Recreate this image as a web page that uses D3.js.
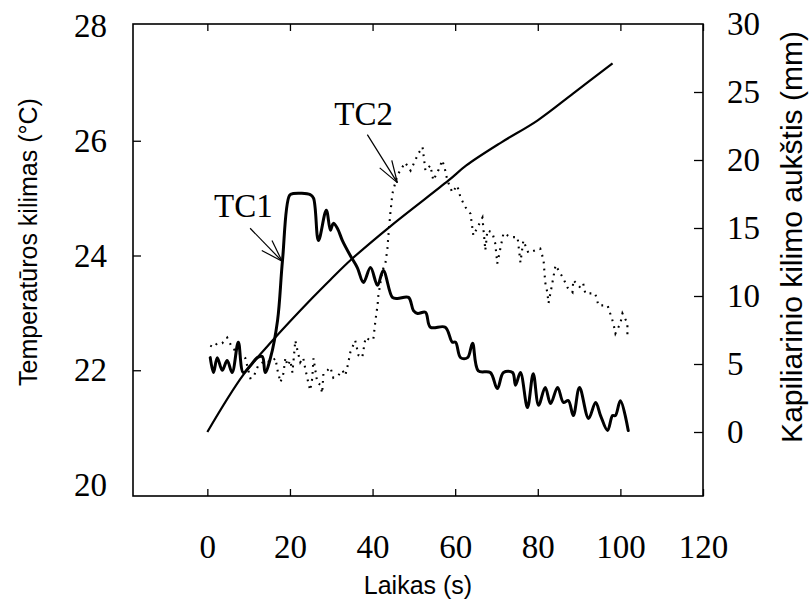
<!DOCTYPE html>
<html>
<head>
<meta charset="utf-8">
<script src="https://cdn.jsdelivr.net/npm/d3@7"></script>
<style>
  body { margin: 0; background: #fff; }
  svg { display: block; }
</style>
</head>
<body>
<script>
// Axis tick values
const timeTicks = [0, 20, 40, 60, 80, 100, 120];
const tempTicks = [20, 22, 24, 26, 28];
const heightTicks = [0, 5, 10, 15, 20, 25, 30];

// Capillary rise height (mm) over time (s)
const riseSeries = [
  [0, 0], [8.7, 4.2], [16, 6.8], [25.4, 9.85], [29.8, 11.2], [34.9, 12.7],
  [44.6, 15.2], [58.4, 18.5], [62.7, 19.6], [71.2, 21.3], [79.9, 22.9],
  [88.6, 24.9], [98.1, 27.1]
];

// Thermocouple TC1 temperature (°C) over time (s)
const tc1Series = [
  [0.7, 22.22], [1.5, 21.96], [2.4, 22.22], [3.6, 22.0], [4.8, 22.17], [6.0, 21.96],
  [7.5, 22.49], [8.7, 21.96], [10.4, 22.08], [12.1, 22.22], [13.3, 22.24], [14.0, 21.96],
  [15.3, 22.22], [17.0, 22.87], [18.2, 23.92], [19.9, 25.05], [20.8, 25.08], [24.9, 25.06],
  [25.7, 25.0], [26.9, 24.26], [28.8, 24.79], [29.8, 24.44], [30.5, 24.56], [31.5, 24.47],
  [32.7, 24.26], [34.6, 24.0], [36.3, 23.79], [37.8, 23.53], [39.5, 23.79], [41.2, 23.48],
  [42.6, 23.74], [44.8, 23.27], [46.0, 23.25], [48.7, 23.27], [49.9, 23.04], [50.9, 22.99],
  [52.8, 23.01], [54.0, 22.75], [57.6, 22.75], [59.3, 22.49], [60.1, 22.49], [61.3, 22.22],
  [63.0, 22.22], [64.2, 22.47], [65.6, 21.99], [68.5, 21.96], [70.2, 21.68], [71.7, 21.96],
  [73.9, 21.96], [74.6, 21.74], [75.8, 21.96], [77.5, 21.35], [78.9, 21.94], [80.2, 21.39],
  [81.8, 21.70], [83.1, 21.42], [84.8, 21.70], [86.2, 21.44], [87.4, 21.47], [88.6, 21.21],
  [90.1, 21.70], [92.3, 21.16], [94.0, 21.44], [95.2, 21.21], [96.9, 20.95], [98.1, 21.21],
  [98.8, 21.21], [100.0, 21.47], [101.9, 20.95]
];

// Thermocouple TC2 temperature (°C) over time (s)
const tc2Series = [
  [0.7, 22.43], [1.5, 22.40], [2.4, 22.47], [3.6, 22.47], [4.8, 22.57], [6.1, 22.38],
  [7.5, 22.31], [9.2, 22.21], [10.4, 21.86], [11.1, 21.87], [12.3, 22.08], [14.0, 22.17],
  [15.3, 22.14], [16.5, 22.21], [16.9, 22.03], [17.7, 21.79], [18.4, 21.94], [18.9, 22.22],
  [19.4, 22.08], [20.1, 22.17], [20.6, 21.96], [21.3, 22.52], [21.8, 22.35], [22.5, 22.14],
  [23.2, 22.22], [23.7, 22.03], [24.2, 21.86], [24.9, 21.65], [25.4, 21.86], [25.7, 22.21],
  [26.6, 21.79], [27.4, 21.74], [27.8, 21.60], [28.1, 21.94], [29.1, 22.0], [29.8, 22.05],
  [30.5, 21.87], [31.7, 21.91], [32.7, 22.0], [33.4, 21.91], [34.1, 22.12], [34.6, 22.31],
  [35.8, 22.52], [36.6, 22.26], [37.5, 22.22], [38.3, 22.57], [39.5, 22.52], [40.2, 22.55],
  [40.7, 22.87], [41.2, 23.13], [41.4, 23.30], [42.4, 23.74], [43.1, 23.86], [43.6, 24.12],
  [43.8, 24.32], [44.3, 24.73], [44.8, 25.08], [46.0, 25.40], [47.9, 25.62], [49.2, 25.48],
  [51.1, 25.78], [52.1, 25.89], [52.8, 25.48], [54.0, 25.57], [54.7, 25.31], [55.9, 25.48],
  [56.9, 25.66], [57.6, 25.48], [58.1, 25.31], [59.3, 25.10], [60.5, 25.22], [61.3, 25.01],
  [62.5, 24.84], [63.7, 24.73], [64.4, 24.35], [65.4, 24.49], [66.6, 24.66], [67.3, 24.09],
  [67.8, 24.44], [69.0, 24.40], [69.7, 24.21], [70.2, 23.86], [71.7, 24.39], [73.4, 24.32],
  [75.1, 24.32], [75.8, 23.88], [76.5, 24.26], [77.7, 24.05], [80.6, 24.12], [81.4, 23.92],
  [81.8, 23.53], [82.3, 23.36], [82.6, 23.17], [83.5, 23.51], [84.3, 23.83], [86.2, 23.60],
  [87.2, 23.44], [88.4, 23.36], [88.6, 23.57], [90.3, 23.44], [91.0, 23.51], [91.5, 23.34],
  [93.9, 23.34], [94.7, 23.13], [96.9, 23.13], [98.3, 22.82], [98.8, 22.64], [100.0, 22.82],
  [100.5, 22.99], [101.7, 22.82], [101.7, 22.57]
];

// Labelled points on the thermocouple curves
const callouts = [
  { name: "TC1", t: 18.1, v: 23.9, tail: [-32, -33], text: [-68, -44] },
  { name: "TC2", t: 46.0, v: 25.27, tail: [-30, -48], text: [-63, -58] }
];

const W = 811, H = 602;
const frame = { left: 133, right: 703, top: 24, bottom: 496 };
const serif = "'Liberation Serif', 'Times New Roman', serif";
const sans = "'Liberation Sans', Arial, sans-serif";

const x = d3.scaleLinear().domain([-18, 120]).range([frame.left, frame.right]);
const yTemp = d3.scaleLinear().domain([20, 28]).range([485, 26]);
const yRise = d3.scaleLinear().domain([0, 30]).range([432, 24]);

const svg = d3.select("body").append("svg")
  .attr("width", W).attr("height", H)
  .style("background", "#fff");

// Axes (ticks pointing into the plot)
function styleAxis(g, showLabels) {
  g.select(".domain").remove();
  g.selectAll(".tick line").attr("stroke", "#000").attr("stroke-width", 1.3);
  g.selectAll(".tick text")
    .attr("fill", "#000")
    .style("font-family", serif)
    .style("font-size", "33px")
    .style("display", showLabels ? null : "none");
}

svg.append("g")
  .attr("transform", `translate(0,${frame.bottom})`)
  .call(d3.axisBottom(x).tickValues(timeTicks).tickSizeInner(-7).tickSizeOuter(0).tickPadding(39))
  .call(g => styleAxis(g, true));

svg.append("g")
  .attr("transform", `translate(0,${frame.top})`)
  .call(d3.axisTop(x).tickValues(timeTicks).tickSizeInner(-7).tickSizeOuter(0))
  .call(g => styleAxis(g, false));

svg.append("g")
  .attr("transform", `translate(${frame.left},0)`)
  .call(d3.axisLeft(yTemp).tickValues(tempTicks).tickSizeInner(-8).tickSizeOuter(0).tickPadding(26))
  .call(g => {
    styleAxis(g, true);
    g.selectAll(".tick").filter(d => d === 20 || d === 28).select("line").remove();
  });

svg.append("g")
  .attr("transform", `translate(${frame.right},0)`)
  .call(d3.axisRight(yRise).tickValues(heightTicks).tickSizeInner(-9).tickSizeOuter(0).tickPadding(24))
  .call(g => {
    styleAxis(g, true);
    g.selectAll(".tick").filter(d => d === 30).select("line").remove();
  });

// Plot frame
svg.append("rect")
  .attr("x", frame.left).attr("y", frame.top)
  .attr("width", frame.right - frame.left).attr("height", frame.bottom - frame.top)
  .attr("fill", "none").attr("stroke", "#000").attr("stroke-width", 1.6);

// Capillary rise curve
svg.append("path")
  .datum(riseSeries)
  .attr("fill", "none").attr("stroke", "#000").attr("stroke-width", 2.2)
  .attr("d", d3.line().x(d => x(d[0])).y(d => yRise(d[1])).curve(d3.curveCatmullRom.alpha(0.5)));

// TC1 (solid)
svg.append("path")
  .datum(tc1Series)
  .attr("fill", "none").attr("stroke", "#000").attr("stroke-width", 3)
  .attr("stroke-linejoin", "round").attr("stroke-linecap", "round")
  .attr("d", d3.line().x(d => x(d[0])).y(d => yTemp(d[1])).curve(d3.curveCatmullRom.alpha(0.5)));

// TC2 (dotted)
svg.append("path")
  .datum(tc2Series)
  .attr("fill", "none").attr("stroke", "#000").attr("stroke-width", 2.1)
  .attr("stroke-dasharray", "1.8,5.2")
  .attr("d", d3.line().x(d => x(d[0])).y(d => yTemp(d[1])));

// Callout arrows and labels
const barbLen = 23, barbAngle = 18 * Math.PI / 180;
callouts.forEach(c => {
  const tx = x(c.t), ty = yTemp(c.v);
  const g = svg.append("g").attr("stroke", "#000").attr("stroke-width", 1.2).attr("fill", "none");
  g.append("line").attr("x1", tx + c.tail[0]).attr("y1", ty + c.tail[1]).attr("x2", tx).attr("y2", ty);
  const ang = Math.atan2(c.tail[1], c.tail[0]);
  [-1, 1].forEach(s => {
    const a = ang + s * barbAngle;
    g.append("line")
      .attr("x1", tx + barbLen * Math.cos(a)).attr("y1", ty + barbLen * Math.sin(a))
      .attr("x2", tx).attr("y2", ty);
  });
  svg.append("text")
    .attr("x", tx + c.text[0]).attr("y", ty + c.text[1])
    .style("font-family", serif).style("font-size", "33px")
    .attr("fill", "#000")
    .text(c.name);
});

// Axis titles
svg.append("text")
  .attr("x", (frame.left + frame.right) / 2).attr("y", 594)
  .attr("text-anchor", "middle")
  .style("font-family", sans).style("font-size", "25px")
  .text("Laikas (s)");

svg.append("text")
  .attr("transform", "translate(37,242) rotate(-90)")
  .attr("text-anchor", "middle")
  .style("font-family", sans).style("font-size", "25px")
  .text("Temperatūros kilimas (°C)");

svg.append("text")
  .attr("transform", "translate(802,237) rotate(-90)")
  .attr("text-anchor", "middle")
  .style("font-family", sans).style("font-size", "30px")
  .text("Kapiliarinio kilimo aukštis (mm)");
</script>
</body>
</html>
